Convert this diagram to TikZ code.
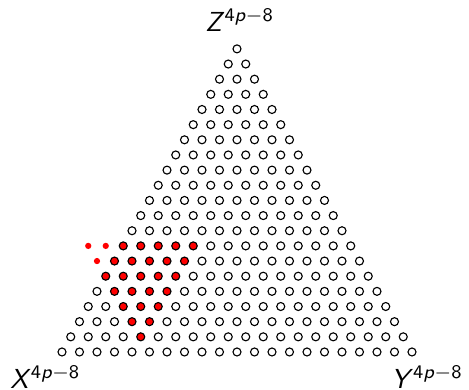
\documentclass[tikz,border=0pt]{standalone}
\usetikzlibrary{calc}

\begin{document}
\begin{tikzpicture}[x=0.4pt,y=0.4pt,
  pt/.style={circle, draw=black, line width=0.45pt, fill=white,
             inner sep=0pt, minimum size=3.2pt},
  hit/.style={pt, fill=red},
  extra/.style={circle, fill=red, inner sep=0pt, minimum size=2.5pt},
  lbl/.style={font=\fontsize{11}{13}\selectfont\sffamily, inner sep=0pt,
              anchor=base west},
]
  \useasboundingbox (0,0) rectangle (469,390);

  % triangular grid, row r from the bottom, i from the left
  \foreach \r in {0,...,20}{
    \pgfmathtruncatemacro\n{20-\r}
    \foreach \i in {0,...,\n}{
      \pgfmathtruncatemacro\inred{(\i<5)&&(\i+\r>4)&&(\r<8)}
      \ifnum\inred=1 \def\sty{hit}\else\def\sty{pt}\fi
      \node[\sty] (d-\r-\i) at ({62+\i*17.5+\r*8.75},{38+\r*15.155}) {};
    }
  }

  % dots outside the triangle
  \foreach \r/\j in {6/1,7/2,7/1}
    \node[extra] (e-\r-m\j) at ({62-\j*17.5+\r*8.75},{38+\r*15.155}) {};

  \node[lbl] (zlab) at (205,358.5) {\textsl{Z}\textsuperscript{4\textsl{p}$-$8}};
  \node[lbl] (xlab) at (10,1.5) {\textsl{X}\textsuperscript{4\textsl{p}$-$8}};
  \node[lbl] (ylab) at (391,1.5) {\textsl{Y}\textsuperscript{4\textsl{p}$-$8}};
\end{tikzpicture}
\end{document}
